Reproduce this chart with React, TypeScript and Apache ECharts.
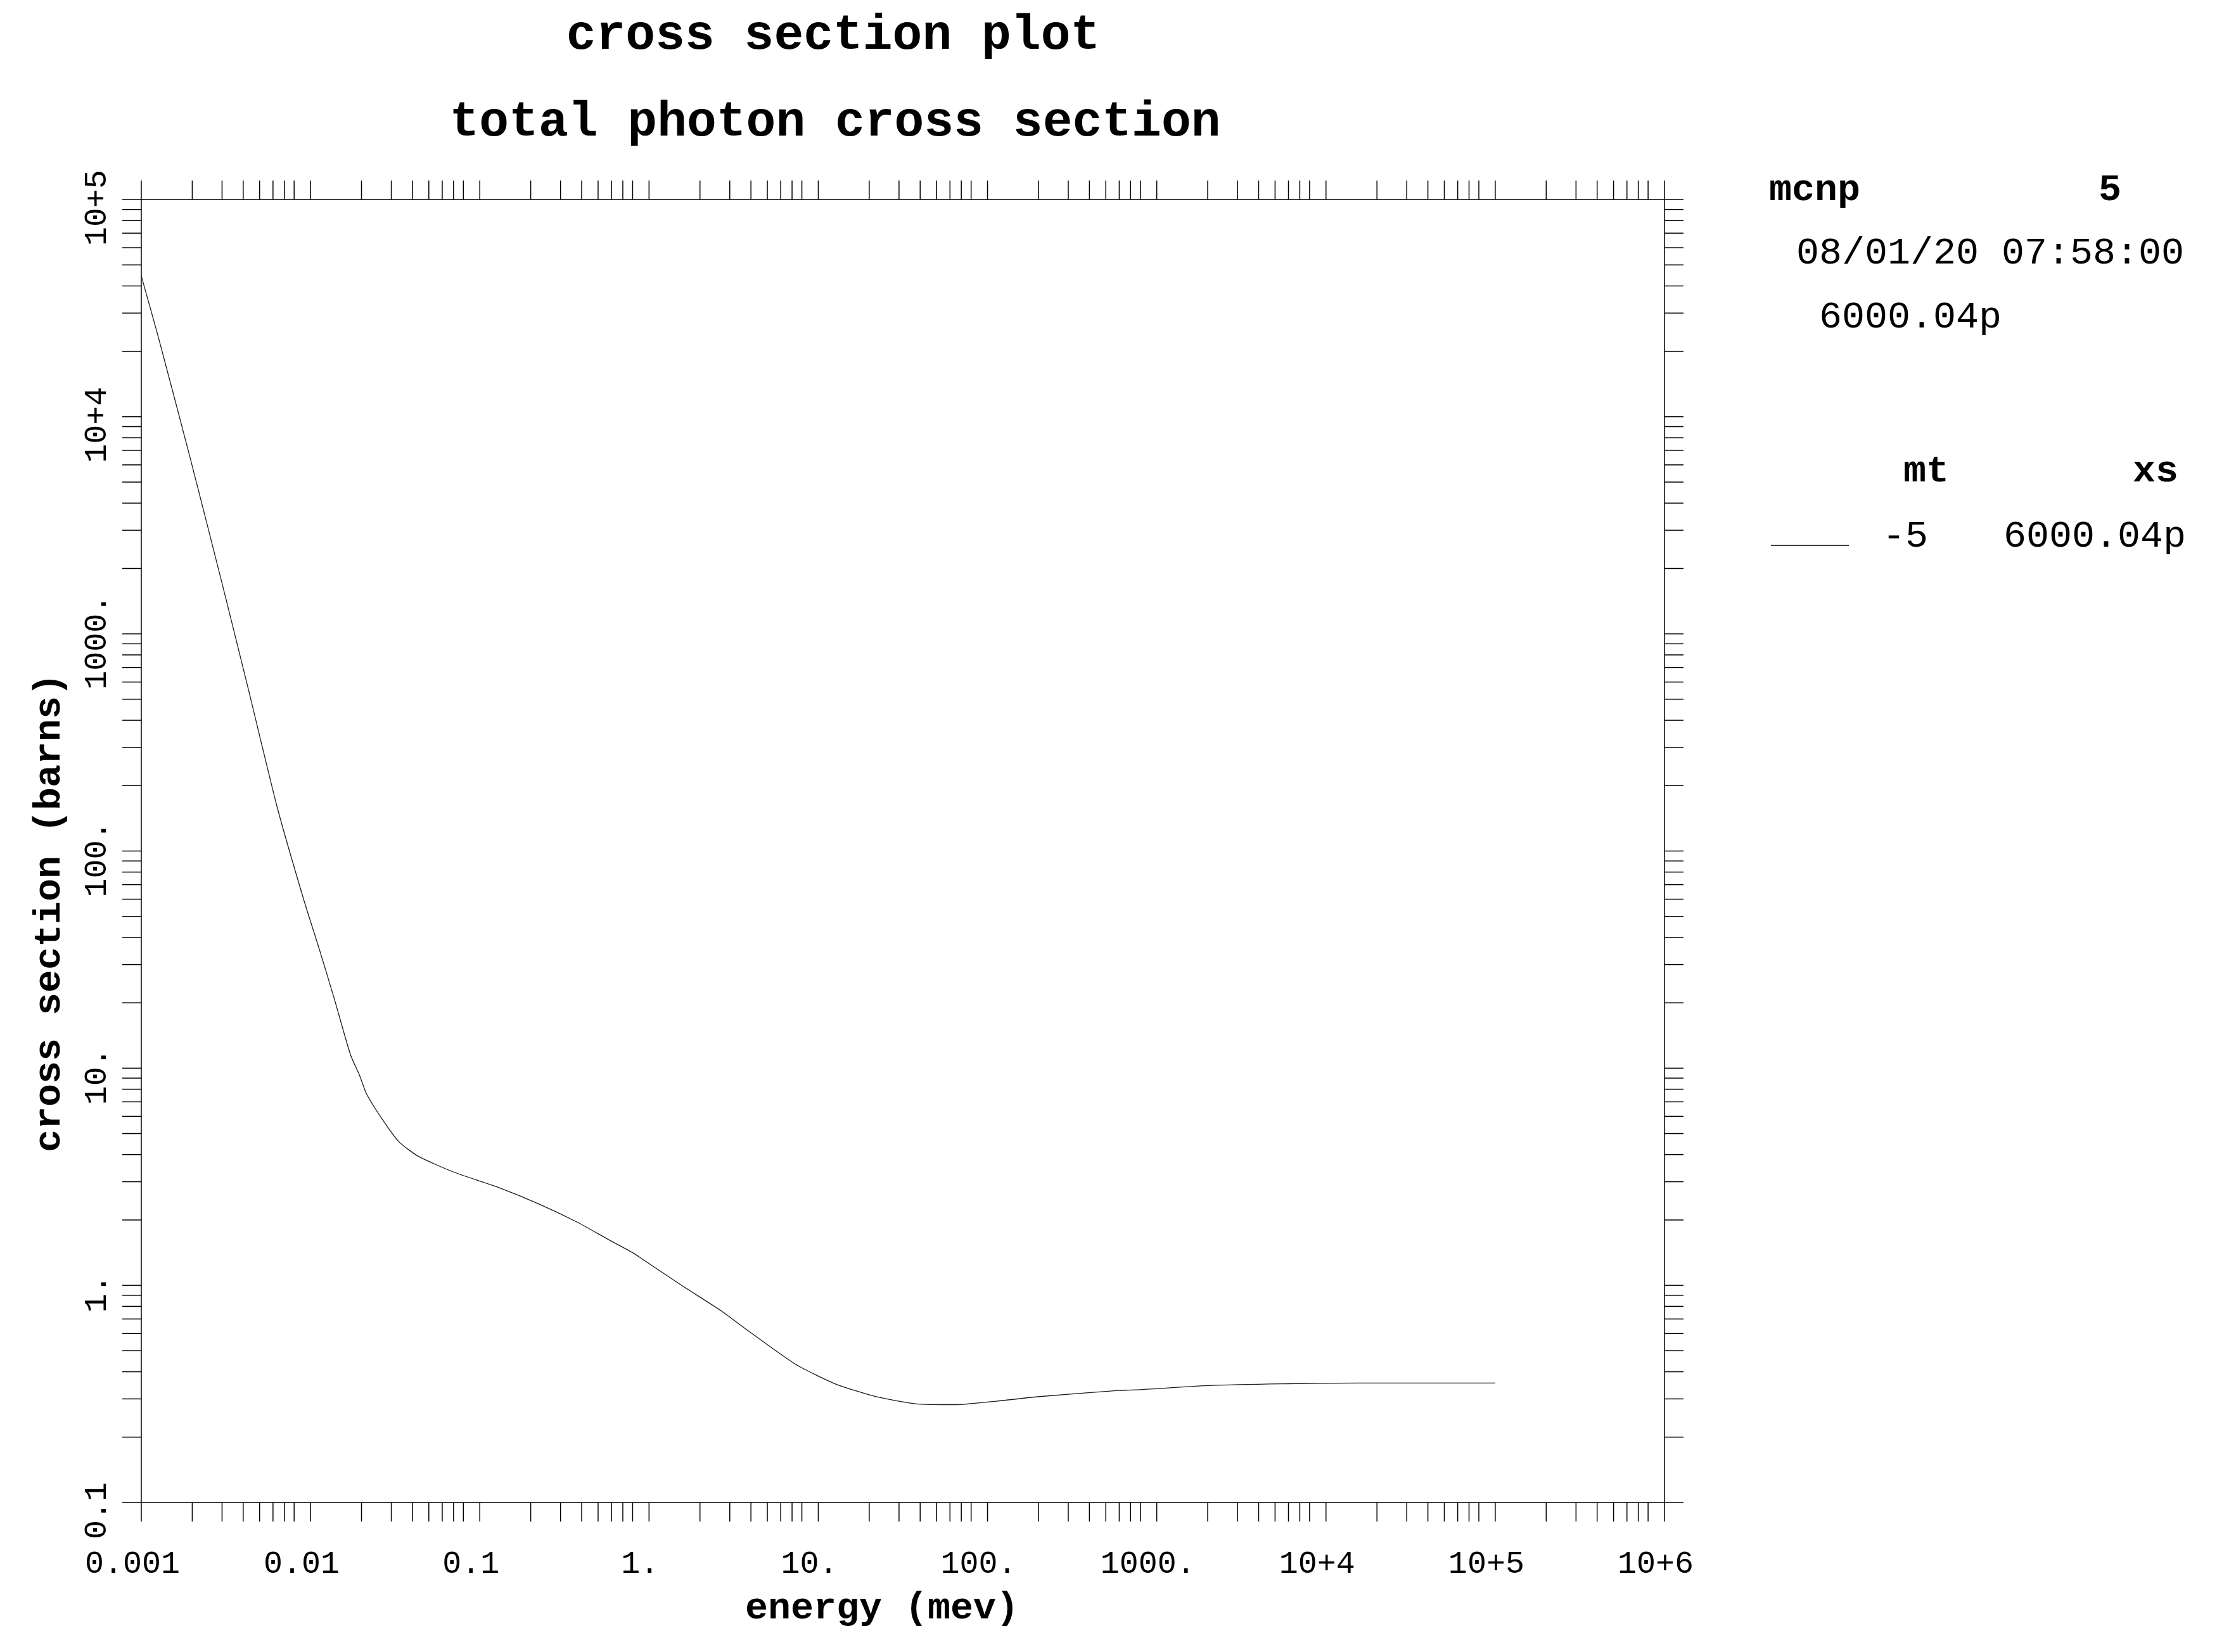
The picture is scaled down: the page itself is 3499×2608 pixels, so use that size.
import React, { useEffect, useRef } from "react";
import * as echarts from "echarts";

// ---- data ----
const energyMeV = [
  0.001, 0.00126, 0.00193, 0.00297, 0.00427, 0.00634, 0.00912, 0.01132, 0.01381,
  0.0172, 0.01945, 0.02145, 0.0267, 0.0333, 0.0433, 0.0703, 0.1246, 0.2207, 0.374,
  0.58, 0.811, 0.901, 1.58, 2.706, 3.68, 7.31, 12.7, 22.0, 38.0, 65.9, 114, 198,
  594, 802, 2100, 5495, 15530, 100000,
];
const totalXsBarns = [
  44500, 23300, 6600, 1764, 565, 160, 59.6, 34.9, 20.9,
  11.56, 9.29, 7.6, 5.78, 4.58, 3.93, 3.32, 2.85, 2.38, 1.96,
  1.62, 1.406, 1.33, 0.993, 0.758, 0.634, 0.434, 0.351, 0.307, 0.2846, 0.2823, 0.293, 0.307,
  0.328, 0.331, 0.346, 0.352, 0.355, 0.355,
];
const xDecadeLabels = ["0.001", "0.01", "0.1", "1.", "10.", "100.", "1000.", "10+4", "10+5", "10+6"];
const yDecadeLabels = ["0.1", "1.", "10.", "100.", "1000.", "10+4", "10+5"];
const xMinorMultipliers = [2, 3, 4, 5, 6, 7, 8];
const yMinorMultipliers = [2, 3, 4, 5, 6, 7, 8, 9];
const X_MIN_EXP = -3;
const X_MAX_EXP = 6;
const Y_MIN_EXP = -1;
const Y_MAX_EXP = 5;

const titleLines = ["cross section plot", "total photon cross section"];
const xAxisTitle = "energy (mev)";
const yAxisTitle = "cross section (barns)";
const infoCode = "mcnp";
const infoVersion = "5";
const infoDate = "08/01/20 07:58:00";
const infoLibrary = "6000.04p";
const legendHeader = ["mt", "xs"];
const legendRow = ["-5", "6000.04p"];

// ---- layout ----
const W = 3499;
const H = 2608;
const GRID = { left: 223, top: 315, width: 2404, height: 2057 };
const TICK = 30;
const MONO = "'Courier New', 'Liberation Mono', 'DejaVu Sans Mono', monospace";

const X_MIN = Math.pow(10, X_MIN_EXP);
const X_MAX = Math.pow(10, X_MAX_EXP);
const Y_MIN = Math.pow(10, Y_MIN_EXP);
const Y_MAX = Math.pow(10, Y_MAX_EXP);

function buildTicks(minExp: number, maxExp: number, mults: number[]) {
  const out: number[] = [];
  for (let e = minExp; e <= maxExp; e++) {
    const d = Math.pow(10, e);
    out.push(d);
    if (e < maxExp) mults.forEach((m) => out.push(m * d));
  }
  return out;
}

const xTickValues = buildTicks(X_MIN_EXP, X_MAX_EXP, xMinorMultipliers);
const yTickValues = buildTicks(Y_MIN_EXP, Y_MAX_EXP, yMinorMultipliers);
const xDecades = xDecadeLabels.map((_, i) => Math.pow(10, X_MIN_EXP + i));
const yDecades = yDecadeLabels.map((_, i) => Math.pow(10, Y_MIN_EXP + i));

const tickStyle = { stroke: "#000", lineWidth: 1.5 };

function txt(
  text: string,
  x: number,
  y: number,
  size: number,
  bold: boolean,
  align: string,
  rotation = 0
) {
  return {
    type: "text",
    x,
    y,
    rotation,
    silent: true,
    style: {
      text,
      font: `${bold ? "bold " : ""}${size}px ${MONO}`,
      fill: "#000",
      textAlign: align,
      textVerticalAlign: "middle",
      align,
      verticalAlign: "middle",
    },
  };
}

function buildOption() {
  const axisLine = { show: true, onZero: false, lineStyle: { color: "#000", width: 1.5 } };
  const hidden = {
    axisTick: { show: false },
    axisLabel: { show: false },
    splitLine: { show: false },
    minorTick: { show: false },
    minorSplitLine: { show: false },
  };
  const baseX = { type: "log", logBase: 10, min: X_MIN, max: X_MAX, axisLine, ...hidden };
  const baseY = { type: "log", logBase: 10, min: Y_MIN, max: Y_MAX, axisLine, ...hidden };

  return {
    animation: false,
    backgroundColor: "#fff",
    grid: { ...GRID },
    xAxis: [
      { ...baseX, position: "bottom" },
      { ...baseX, position: "top" },
    ],
    yAxis: [
      { ...baseY, position: "left" },
      { ...baseY, position: "right" },
    ],
    series: [
      {
        type: "line",
        data: energyMeV.map((e, i) => [e, totalXsBarns[i]]),
        showSymbol: false,
        smooth: 0.2,
        lineStyle: { color: "#1a1a1a", width: 1.3 },
        z: 3,
        silent: true,
      },
      {
        type: "custom",
        clip: false,
        silent: true,
        data: xTickValues.map((v) => [v, Y_MIN]),
        renderItem: (params: any, api: any) => {
          const v = api.value(0);
          const b = api.coord([v, Y_MIN]);
          const t = api.coord([v, Y_MAX]);
          return {
            type: "group",
            children: [
              { type: "line", shape: { x1: b[0], y1: b[1], x2: b[0], y2: b[1] + TICK }, style: tickStyle },
              { type: "line", shape: { x1: t[0], y1: t[1], x2: t[0], y2: t[1] - TICK }, style: tickStyle },
            ],
          };
        },
      },
      {
        type: "custom",
        clip: false,
        silent: true,
        data: yTickValues.map((v) => [X_MIN, v]),
        renderItem: (params: any, api: any) => {
          const v = api.value(1);
          const l = api.coord([X_MIN, v]);
          const r = api.coord([X_MAX, v]);
          return {
            type: "group",
            children: [
              { type: "line", shape: { x1: l[0], y1: l[1], x2: l[0] - TICK, y2: l[1] }, style: tickStyle },
              { type: "line", shape: { x1: r[0], y1: r[1], x2: r[0] + TICK, y2: r[1] }, style: tickStyle },
            ],
          };
        },
      },
      {
        type: "custom",
        clip: false,
        silent: true,
        data: xDecades.map((v) => [v, Y_MIN]),
        renderItem: (params: any, api: any) => {
          const p = api.coord([api.value(0), Y_MIN]);
          return txt(xDecadeLabels[params.dataIndex], p[0] - 14, p[1] + 97, 50, false, "center");
        },
      },
      {
        type: "custom",
        clip: false,
        silent: true,
        data: yDecades.map((v) => [X_MIN, v]),
        renderItem: (params: any, api: any) => {
          const p = api.coord([X_MIN, api.value(1)]);
          return txt(yDecadeLabels[params.dataIndex], p[0] - 70, p[1] + 13, 50, false, "center", Math.PI / 2);
        },
      },
    ],
    graphic: [
      txt(titleLines[0], 1315, 56, 78, true, "center"),
      txt(titleLines[1], 1318, 193, 78, true, "center"),
      txt(xAxisTitle, 1392, 2539, 60, true, "center"),
      txt(yAxisTitle, 78, 1441, 60, true, "center", Math.PI / 2),
      txt(infoCode, 2792, 300, 60, true, "left"),
      txt(infoVersion, 3330, 300, 60, true, "center"),
      txt(infoDate, 2835, 400, 60, false, "left"),
      txt(infoLibrary, 2871, 501, 60, false, "left"),
      txt(legendHeader[0], 3040, 744, 60, true, "center"),
      txt(legendHeader[1], 3402, 744, 60, true, "center"),
      {
        type: "line",
        silent: true,
        shape: { x1: 2795, y1: 861, x2: 2918, y2: 861 },
        style: { stroke: "#000", lineWidth: 1.5 },
      },
      txt(legendRow[0], 3007, 847, 60, false, "center"),
      txt(legendRow[1], 3162, 847, 60, false, "left"),
    ],
  };
}

export default function App() {
  const ref = useRef<HTMLDivElement>(null);
  useEffect(() => {
    document.body.style.margin = "0";
    const el = ref.current!;
    const chart = echarts.init(el, null, { renderer: "svg", width: W, height: H });
    chart.setOption(buildOption() as any);
    return () => {
      chart.dispose();
    };
  }, []);
  return <div ref={ref} style={{ width: W, height: H, background: "#fff" }} />;
}
